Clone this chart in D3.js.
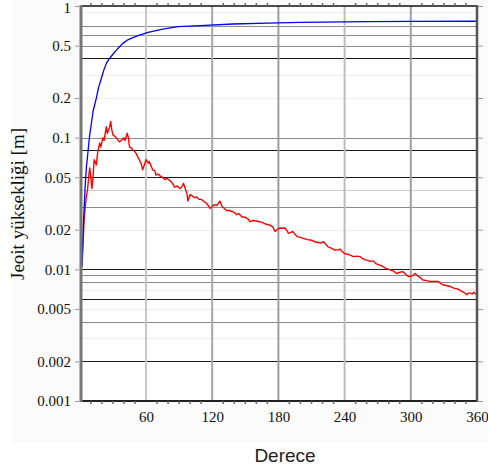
<!DOCTYPE html>
<html>
<head>
<meta charset="utf-8">
<script src="https://cdn.jsdelivr.net/npm/d3@7"></script>
<style>
  body { margin: 0; background: #fff; }
  svg { display: block; }
</style>
</head>
<body>
<svg id="chart" width="488" height="469"></svg>
<script>
// degree axis ticks and log axis labels
const xLabels = [60, 120, 180, 240, 300, 360];
const xMinor = [10, 20, 30, 40, 50, 70, 80, 90, 100, 110, 130, 140, 150, 160, 170,
  190, 200, 210, 220, 230, 250, 260, 270, 280, 290, 310, 320, 330, 340, 350];
const yLabels = [1, 0.5, 0.2, 0.1, 0.05, 0.02, 0.01, 0.005, 0.002, 0.001];

// horizontal grid lines, grouped by how dark they are drawn
const darkGrid = [0.4, 0.08, 0.05, 0.01, 0.006, 0.002];
const midGrid = [0.7, 0.6, 0.5, 0.1, 0.03, 0.009, 0.008, 0.004];
const lightGrid = [0.04];
const faintGrid = [0.9, 0.3, 0.2, 0.02, 0.007, 0.005, 0.003];

// cumulative geoid height (blue)
const blueDeg = [2, 3, 4, 5, 6, 7, 8, 9, 10, 12, 15, 17, 20, 22, 24, 26, 28, 30, 33, 36,
  39, 43, 47, 54, 62, 74, 89, 109, 139, 170, 200, 260, 300, 360];
const blueVal = [0.0105, 0.02, 0.03, 0.045, 0.06, 0.072, 0.088, 0.105, 0.12, 0.158, 0.2,
  0.24, 0.29, 0.33, 0.365, 0.39, 0.41, 0.43, 0.46, 0.49, 0.52, 0.55, 0.57, 0.6, 0.63,
  0.665, 0.696, 0.71, 0.73, 0.742, 0.75, 0.76, 0.763, 0.766];

// per degree geoid height (red)
const redDeg = [2, 3, 4, 5, 6, 7, 8, 9, 10, 11, 12, 13, 14, 15, 16, 18, 19, 21, 22, 24,
  25, 27, 28, 29, 30, 32, 33, 35, 36, 38, 40, 41, 43, 44, 45, 47, 48, 50, 51, 53, 54, 56,
  57, 59, 60, 62, 63, 65, 66, 68, 69, 71, 73, 75, 77, 79, 82, 84, 86, 88, 91, 93, 94, 96,
  97, 98, 100, 102, 104, 106, 108, 110, 112, 115, 117, 118, 120, 122, 124, 127, 129, 131,
  133, 135, 138, 140, 142, 144, 147, 149, 151, 153, 154, 157, 160, 163, 166, 169, 172,
  175, 177, 179, 181, 184, 186, 188, 189, 191, 193, 195, 197, 200, 203, 206, 209, 211,
  213, 216, 218, 221, 223, 225, 228, 231, 234, 236, 238, 240, 243, 245, 248, 251, 254,
  256, 259, 261, 263, 266, 268, 271, 274, 277, 280, 283, 285, 287, 290, 293, 296, 298,
  301, 304, 307, 309, 311, 314, 317, 321, 325, 327, 330, 333, 336, 339, 342, 344, 346,
  348, 351, 352, 354, 356, 357, 359, 360];
const redVal = [0.0105, 0.016, 0.024, 0.03, 0.036, 0.04, 0.05, 0.059, 0.05, 0.041, 0.05,
  0.068, 0.065, 0.062, 0.075, 0.091, 0.085, 0.1, 0.095, 0.121, 0.108, 0.12, 0.133, 0.115,
  0.105, 0.102, 0.1, 0.095, 0.093, 0.096, 0.1, 0.095, 0.108, 0.1, 0.085, 0.083, 0.081,
  0.078, 0.076, 0.07, 0.068, 0.062, 0.057, 0.064, 0.068, 0.064, 0.066, 0.06, 0.057,
  0.056, 0.052, 0.053, 0.051, 0.05, 0.048, 0.049, 0.047, 0.045, 0.042, 0.043, 0.041,
  0.043, 0.045, 0.04, 0.038, 0.033, 0.037, 0.036, 0.035, 0.0355, 0.034, 0.034, 0.033,
  0.0316, 0.03, 0.029, 0.03, 0.031, 0.0305, 0.033, 0.03, 0.029, 0.028, 0.028, 0.0275,
  0.027, 0.026, 0.0265, 0.025, 0.025, 0.0245, 0.024, 0.023, 0.0235, 0.0233, 0.023,
  0.0225, 0.022, 0.0217, 0.021, 0.0194, 0.02, 0.0206, 0.0205, 0.0206, 0.0195, 0.0188,
  0.019, 0.0194, 0.0185, 0.0177, 0.0175, 0.0172, 0.0168, 0.0167, 0.0165, 0.0162, 0.016,
  0.0158, 0.0162, 0.0155, 0.0148, 0.0145, 0.014, 0.0141, 0.0142, 0.0136, 0.0132, 0.013,
  0.0128, 0.0125, 0.0126, 0.0125, 0.0121, 0.0118, 0.0117, 0.0115, 0.0116, 0.0111,
  0.0108, 0.0106, 0.0102, 0.01, 0.0098, 0.0096, 0.0093, 0.0095, 0.0096, 0.0091, 0.0088,
  0.0089, 0.0093, 0.0088, 0.0086, 0.0083, 0.0082, 0.0081, 0.0081, 0.0081, 0.0078,
  0.0076, 0.0075, 0.0074, 0.0072, 0.0071, 0.007, 0.0068, 0.0067, 0.0064, 0.0066, 0.0066,
  0.0065, 0.0067, 0.0065, 0.0066];

const serif = "'Liberation Serif', 'DejaVu Serif', serif";
const sans = "'Liberation Sans', Arial, sans-serif";

let svg = d3.select("#chart");

let x = d3.scaleLinear().domain([2, 360]).range([82, 477]);
let y = d3.scaleLog().domain([0.001, 1]).range([401, 6]);

// very faint backdrop behind the figure, plot area white
svg.append("rect").attr("x", 12).attr("y", 0).attr("width", 476).attr("height", 443)
  .attr("fill", "#fbfbfb");
svg.append("rect").attr("x", 82).attr("y", 6).attr("width", 395).attr("height", 395)
  .attr("fill", "#fff");

// horizontal grid
let hgrid = (vals, color) => {
  svg.append("g").selectAll("line")
    .data(vals)
    .enter()
    .append("line")
    .attr("x1", x(2)).attr("x2", x(360))
    .attr("y1", d => Math.round(y(d)) + 0.5)
    .attr("y2", d => Math.round(y(d)) + 0.5)
    .attr("stroke", color)
    .attr("stroke-width", 1);
};
hgrid(faintGrid, "#ececec");
hgrid(lightGrid, "#cfcfcf");
hgrid(midGrid, "#8c8c8c");
hgrid(darkGrid, "#1a1a1a");

// vertical grid at labelled degrees
const vColors = ["#c8c8c8", "#a8a8a8", "#9c9c9c", "#bdbdbd", "#a0a0a0"];
svg.append("g").selectAll("line")
  .data(xLabels.slice(0, 5))
  .enter()
  .append("line")
  .attr("x1", d => x(d)).attr("x2", d => x(d))
  .attr("y1", y(1)).attr("y2", y(0.001))
  .attr("stroke", (d, i) => vColors[i])
  .attr("stroke-width", 2);

// curves
let line = d3.line()
  .x(d => x(d[0]))
  .y(d => y(d[1]));

svg.append("path")
  .datum(d3.zip(redDeg, redVal))
  .attr("d", line)
  .attr("fill", "none")
  .attr("stroke", "#ff0000")
  .attr("stroke-width", 1.4)
  .attr("stroke-linejoin", "round");

svg.append("path")
  .datum(d3.zip(blueDeg, blueVal))
  .attr("d", line)
  .attr("fill", "none")
  .attr("stroke", "#0000ff")
  .attr("stroke-width", 1.3)
  .attr("stroke-linejoin", "round");

// frame
svg.append("line").attr("x1", 82).attr("x2", 477).attr("y1", 6).attr("y2", 6)
  .attr("stroke", "#111").attr("stroke-width", 1.5);
svg.append("line").attr("x1", 81).attr("x2", 478).attr("y1", 401).attr("y2", 401)
  .attr("stroke", "#222").attr("stroke-width", 2);
svg.append("line").attr("x1", 81).attr("x2", 81).attr("y1", 5).attr("y2", 402)
  .attr("stroke", "#777").attr("stroke-width", 3);
svg.append("line").attr("x1", 477).attr("x2", 477).attr("y1", 5).attr("y2", 402)
  .attr("stroke", "#555").attr("stroke-width", 2.5);

// minor degree ticks on top and bottom
[[6, -3], [401, 3]].forEach(([y0, len]) => {
  svg.append("g").selectAll("line")
    .data(xMinor)
    .enter()
    .append("line")
    .attr("x1", d => x(d)).attr("x2", d => x(d))
    .attr("y1", y0).attr("y2", y0 + len)
    .attr("stroke", "#666")
    .attr("stroke-width", 1.5);
});

// y axis (left) with labels
let yAxis = svg.append("g")
  .attr("transform", "translate(79,0)")
  .call(d3.axisLeft(y).tickValues(yLabels).tickFormat(d => String(d))
    .tickSize(4).tickPadding(4));
yAxis.select(".domain").remove();
yAxis.selectAll(".tick line").attr("stroke", "#999");
yAxis.selectAll("text").attr("font-family", serif).attr("font-size", 15).attr("fill", "#111");
// keep the top label inside the picture
yAxis.selectAll("text").filter(d => d === 1).attr("dy", "0.45em");

// right side ticks
let yRight = svg.append("g")
  .attr("transform", "translate(478,0)")
  .call(d3.axisRight(y).tickValues(yLabels).tickFormat("").tickSize(5));
yRight.select(".domain").remove();
yRight.selectAll(".tick line").attr("stroke", "#999");

// x axis labels
let xAxis = svg.append("g")
  .attr("transform", "translate(0,402)")
  .call(d3.axisBottom(x).tickValues(xLabels).tickFormat(d3.format("d"))
    .tickSize(0).tickPadding(9));
xAxis.select(".domain").remove();
xAxis.selectAll("text").attr("font-family", serif).attr("font-size", 15).attr("fill", "#111");

// axis titles
svg.append("text")
  .attr("x", 285).attr("y", 462)
  .attr("text-anchor", "middle")
  .attr("font-family", sans)
  .attr("font-size", 19)
  .attr("fill", "#222")
  .text("Derece");

svg.append("text")
  .attr("transform", "translate(24,204) rotate(-90)")
  .attr("text-anchor", "middle")
  .attr("font-family", serif)
  .attr("font-size", 19)
  .attr("fill", "#111")
  .text("Jeoit yüksekliği [m]");
</script>
</body>
</html>
